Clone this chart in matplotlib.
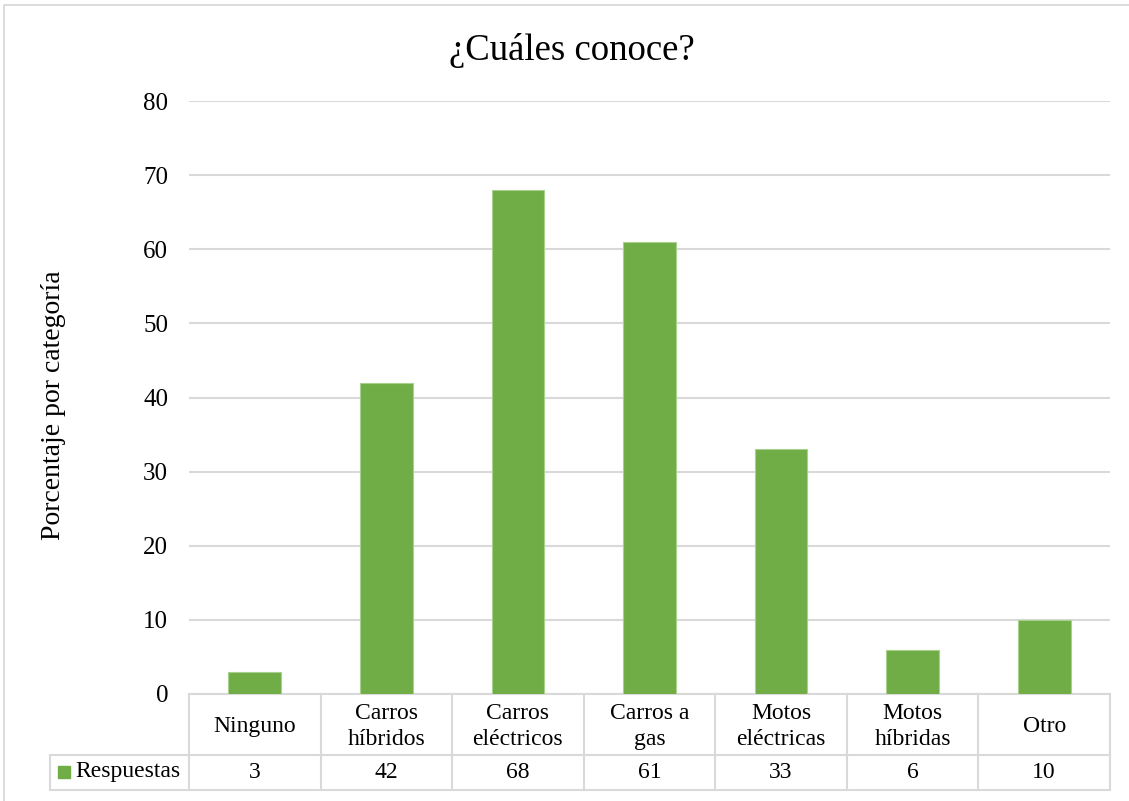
import matplotlib
matplotlib.use("Agg")
import matplotlib.pyplot as plt
from matplotlib.lines import Line2D
from matplotlib.patches import Rectangle
import matplotlib.transforms as mtransforms

plt.rcParams['font.family'] = ['Liberation Serif', 'DejaVu Serif']

# Datos de la encuesta
categorias = ["Ninguno", "Carros\nhíbridos", "Carros\neléctricos", "Carros a\ngas",
              "Motos\neléctricas", "Motos\nhíbridas", "Otro"]
respuestas = [3, 42, 68, 61, 33, 6, 10]
serie = "Respuestas"

verde = "#70AD47"
gris = "#D9D9D9"

W, H = 1129, 801
fig = plt.figure(figsize=(W / 100, H / 100), dpi=100)

# borde exterior del grafico (solo se ven arriba y a la izquierda)
fig.lines.append(Line2D([4 / W, 4 / W, 1], [0, 1 - 5 / H, 1 - 5 / H], transform=fig.transFigure,
                        color=gris, linewidth=1.3))

x0, x1, y_top, y_bot = 189, 1110, 101, 694
ax = fig.add_axes([x0 / W, (H - y_bot) / H, (x1 - x0) / W, (y_bot - y_top) / H])

x = list(range(len(categorias)))
ax.bar(x, respuestas, width=0.4, color=verde, edgecolor="#A9D18E", linewidth=0.8, zorder=3)

ax.set_xlim(-0.5, len(categorias) - 0.5)
ax.set_ylim(0, 80)
ax.set_yticks(range(0, 81, 10))
ax.tick_params(axis="y", length=0, pad=15, labelsize=18)
ax.set_xticks([])
ax.grid(axis="y", color=gris, linewidth=1.5, zorder=0)
for s in ax.spines.values():
    s.set_visible(False)

fig.text(54 / W, 1 - 405 / H, "Porcentaje por categoría", fontsize=20, rotation=90,
         ha="center", va="center")
fig.text(572 / W, 1 - 50 / H, "¿Cuáles conoce?", fontsize=26.5, ha="center", va="center")

# tabla de datos bajo el eje
trans = mtransforms.blended_transform_factory(ax.transData, ax.transAxes)
px = 1.0 / (y_bot - y_top)
r1 = -(755 - y_bot) * px
r2 = -(790 - y_bot) * px
unit = (x1 - x0) / len(categorias)
xl = -0.5 - (x0 - 50) / unit

def linea(xs, ys):
    ax.add_line(Line2D(xs, ys, transform=trans, color=gris, linewidth=1.5, clip_on=False))

linea([-0.5, 6.5], [0, 0])
linea([xl, 6.5], [r1, r1])
linea([xl, 6.5], [r2, r2])
linea([xl, xl], [r1, r2])
for k in range(len(categorias) + 1):
    linea([k - 0.5, k - 0.5], [0, r2])

for i, (c, v) in enumerate(zip(categorias, respuestas)):
    ax.text(i, r1 / 2 - 2 * px, c, transform=trans, ha="center", va="center", fontsize=17,
            linespacing=1.3)
    ax.text(i, (r1 + r2) / 2, str(v), transform=trans, ha="center", va="center", fontsize=17)

fig.patches.append(Rectangle((58 / W, 1 - 778 / H), 12 / W, 12 / H, transform=fig.transFigure,
                             color=verde))
fig.text(75 / W, 1 - 772 / H, serie, fontsize=17, ha="left", va="center")

fig.savefig("out.png", dpi=100)
